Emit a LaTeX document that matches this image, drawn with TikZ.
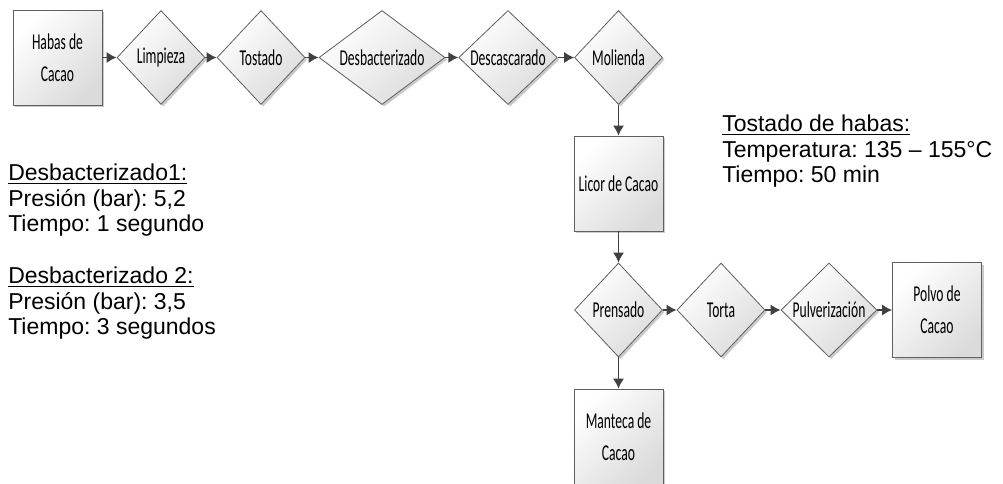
\documentclass[tikz,border=0pt]{standalone}
\usepackage{fontspec}
\setmainfont{Liberation Sans}
\newfontfamily\calib[FakeStretch=0.6]{Carlito}
\usetikzlibrary{shapes.geometric,arrows.meta,shadows}
\frenchspacing

\definecolor{lineGray}{RGB}{95,95,95}
\definecolor{arrowGray}{RGB}{64,64,64}

\tikzset{
  proc/.style={draw=lineGray, line width=0.6pt, top color=white, bottom color=black!14, shading angle=45,
    drop shadow={shadow xshift=1.6pt, shadow yshift=-1.6pt, fill=black!35, opacity=0.6},
    font=\calib\fontsize{17}{24}\selectfont, align=center, inner sep=0pt},
  procbox/.style={proc, rectangle, minimum width=66.75pt, minimum height=71.25pt},
  procdiam/.style={proc, diamond, aspect=1.4, minimum width=66pt, minimum height=70.5pt},
  flow/.style={draw=arrowGray, line width=1.4pt, -{Latex[length=7.5pt,width=8.5pt]}},
  nota/.style={anchor=north west, inner sep=0pt, align=left, font=\fontsize{17.25}{18.9}\selectfont}
}

\begin{document}
\begin{tikzpicture}[x=0.75pt,y=0.75pt,yscale=-1,xscale=1]
\useasboundingbox (0,0) rectangle (1003,483);

%Shape: Rectangle
\node [procbox] (habas) at (57.5,57.5) {Habas de\\Cacao};
%Shape: Diamond
\node [procdiam] (limpieza) at (161,57.5) {Limpieza};
\node [procdiam] (tostado) at (261,57.5) {Tostado};
\node [procdiam, minimum width=94.5pt] (desbact) at (382,57.5) {Desbacterizado};
\node [procdiam, minimum width=74pt] (descasc) at (508,57.5) {Descascarado};
\node [procdiam] (molienda) at (618.5,57.5) {Molienda};

%Shape: Rectangle
\node [procbox] (licor) at (618.5,183.5) {Licor de Cacao};

%Shape: Diamond
\node [procdiam] (prensado) at (618.5,310) {Prensado};
\node [procdiam] (torta) at (721,310) {Torta};
\node [procdiam, minimum width=72pt] (pulver) at (829,310) {Pulverización};
%Shape: Rectangle
\node [procbox] (polvo) at (937,310) {Polvo de\\Cacao};
\node [procbox] (manteca) at (618.5,436.5) {Manteca de\\Cacao};

%Straight Lines
\draw [flow] (habas) -- (limpieza);
\draw [flow] (limpieza) -- (tostado);
\draw [flow] (tostado) -- (desbact);
\draw [flow] (desbact) -- (descasc);
\draw [flow] (descasc) -- (molienda);
\draw [flow] (molienda) -- (licor);
\draw [flow] (licor) -- (prensado);
\draw [flow] (prensado) -- (torta);
\draw [flow] (torta) -- (pulver);
\draw [flow] (pulver) -- (polvo);
\draw [flow] (prensado) -- (manteca);

% Text Node
\node [nota] (tostnota) at (722,115) {\underline{Tostado de habas:}\\Temperatura: 135 – 155°C\\Tiempo: 50 min};
% Text Node
\node [nota] (desb1nota) at (8,164) {\underline{Desbacterizado1:}\\Presión (bar): 5,2\\Tiempo: 1 segundo};
% Text Node
\node [nota] (desb2nota) at (8,267) {\underline{Desbacterizado 2:}\\Presión (bar): 3,5\\Tiempo: 3 segundos};

\end{tikzpicture}
\end{document}
